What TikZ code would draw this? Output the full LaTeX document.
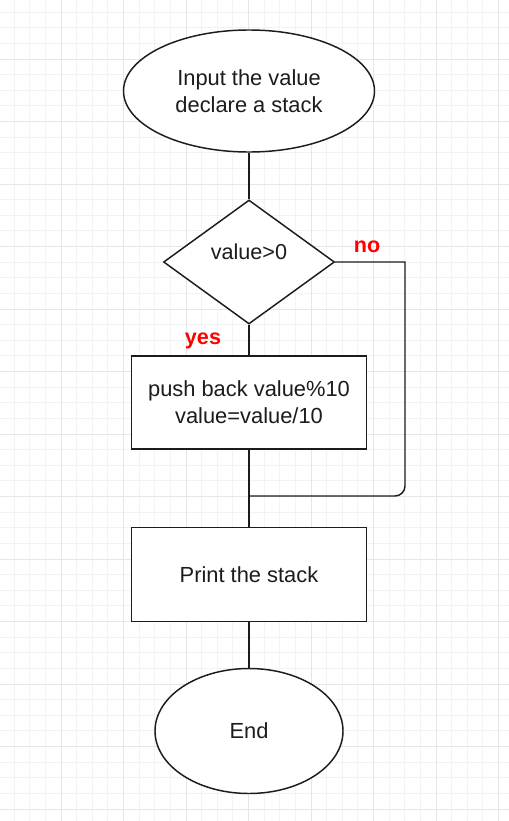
\documentclass[tikz,border=0pt]{standalone}
\usepackage{fontspec}
\setmainfont{Liberation Sans}
\usetikzlibrary{shapes.geometric}
\definecolor{gridminor}{RGB}{243,243,243}
\definecolor{gridmajor}{RGB}{230,230,230}
\definecolor{ink}{RGB}{28,28,28}
\definecolor{lblred}{RGB}{255,0,0}
\begin{document}
\begin{tikzpicture}[x=0.75pt,y=-0.75pt,
  shapebase/.style={draw=ink, line width=1.1pt, fill=white, text=ink, inner sep=0pt,
    align=center, font=\fontsize{16.4}{20.3}\selectfont},
  terminal/.style={shapebase, ellipse},
  process/.style={shapebase, rectangle},
  decision/.style={shapebase, diamond},
  flow/.style={draw=ink, line width=1.1pt},
  branchlabel/.style={text=lblred, anchor=base, inner sep=0pt, font=\bfseries\fontsize{16.2}{20}\selectfont},
  minorline/.style={draw=gridminor, line width=0.75pt},
  majorline/.style={draw=gridmajor, line width=0.75pt}]
\useasboundingbox (0,0) rectangle (509,821);
\fill[white] (0,0) rectangle (509,821);
% grid
\foreach \i in {0,...,33} {
  \draw[minorline] ({-1.5+15.625*\i},0) -- ({-1.5+15.625*\i},821);
}
\foreach \j in {0,...,53} {
  \draw[minorline] (0,{-3.5+15.625*\j}) -- (509,{-3.5+15.625*\j});
}
\foreach \i in {0,4,...,32} {
  \draw[majorline] ({-1.5+15.625*\i},0) -- ({-1.5+15.625*\i},821);
}
\foreach \j in {0,4,...,52} {
  \draw[majorline] (0,{-3.5+15.625*\j}) -- (509,{-3.5+15.625*\j});
}
% nodes
\node[terminal, minimum width=0.75*251pt, minimum height=0.75*122pt] (start) at (249,91)
  {Input the value\\declare a stack};
\node[decision, minimum width=0.75*171pt, minimum height=0.75*124pt,
  label={[name=declabel, text=ink, inner sep=0pt, font=\fontsize{16.2}{20}\selectfont, yshift=8pt]center:value>0}]
  (dec) at (249,262) {};
\node[process, minimum width=0.75*235pt, minimum height=0.75*93pt] (push) at (249,402.5)
  {push back value\%10\\value=value/10};
\node[process, minimum width=0.75*235pt, minimum height=0.75*94pt] (print) at (249,574.5)
  {Print the stack};
\node[terminal, minimum width=0.75*188pt, minimum height=0.75*125pt] (end) at (249,731) {End};
% branch labels
\node[branchlabel] (nolabel) at (367,252.5) {no};
\node[branchlabel] (yeslabel) at (203,344) {yes};
% connectors
\coordinate (nocorner) at (405,262);
\coordinate (nobottom) at (405,496);
\coordinate (join) at (249,496);
\draw[flow] (start.south) -- (dec.north);
\draw[flow] (dec.south) -- (push.north);
\draw[flow] (push.south) -- (print.north);
\draw[flow] (print.south) -- (end.north);
\draw[flow] (dec.east) -- (nocorner) [rounded corners=7.5pt] -- (nobottom) -- (join);
\end{tikzpicture}
\end{document}
